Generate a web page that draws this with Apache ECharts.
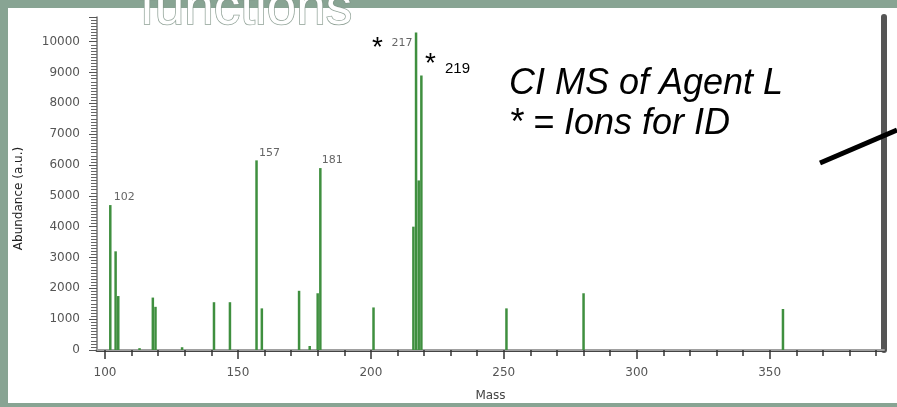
<!DOCTYPE html>
<html>
<head>
<meta charset="utf-8">
<title>CI MS of Agent L</title>
<script src="https://cdn.jsdelivr.net/npm/echarts@6/dist/echarts.min.js"></script>
<style>
  html, body { margin: 0; padding: 0; background: #88a493; }
  #chart { width: 897px; height: 407px; }
</style>
</head>
<body>
<div id="chart"></div>
<script>
// peak list (m/z, abundance)
const masses = [102, 104, 105, 113, 118, 119, 129, 141, 147, 157, 159, 173, 177, 180, 181, 201, 216, 217, 218, 219, 251, 280, 355];
const abundances = [4700, 3200, 1750, 60, 1700, 1400, 90, 1550, 1550, 6150, 1350, 1920, 130, 1840, 5900, 1380, 4000, 10300, 5500, 8900, 1350, 1840, 1330];
const labelledMasses = [102, 157, 181, 217];

const xLabelValues = [100, 150, 200, 250, 300, 350];
const xTickValues = [100, 110, 120, 130, 140, 150, 160, 170, 180, 190, 200, 210, 220, 230, 240, 250, 260, 270, 280, 290, 300, 310, 320, 330, 340, 350, 360, 370, 380, 390];

const X_MIN = 97, X_MAX = 393, Y_MAX = 10800;
const AXIS_FONT = 'DejaVu Sans';

// where each peak label sits relative to the top of its stick
const labelOffsets = {
  102: [14, 0],
  157: [13, 0],
  181: [12, 0],
  217: [-14, 18]
};

const peakData = masses.map((m, i) => {
  const item = { value: [m, abundances[i]] };
  if (labelledMasses.includes(m)) {
    item.label = {
      show: true,
      position: 'top',
      distance: 2,
      offset: labelOffsets[m],
      formatter: String(m),
      color: '#666',
      fontSize: 11,
      fontFamily: AXIS_FONT
    };
  }
  return item;
});

const chart = echarts.init(document.getElementById('chart'));

const option = {
  backgroundColor: '#88a493',
  animation: false,
  grid: { left: 97, right: 13, top: 17, bottom: 55 },
  xAxis: [
    {
      type: 'value',
      position: 'bottom',
      min: X_MIN,
      max: X_MAX,
      name: 'Mass',
      nameLocation: 'middle',
      nameGap: 40,
      nameTextStyle: { color: '#444', fontSize: 12, fontFamily: AXIS_FONT },
      splitLine: { show: false },
      axisLine: { lineStyle: { color: '#444', width: 3 } },
      axisTick: { customValues: xTickValues, length: 6, lineStyle: { color: '#333', width: 1.5 } },
      axisLabel: {
        customValues: xLabelValues,
        margin: 17,
        color: '#555',
        fontSize: 12,
        fontFamily: AXIS_FONT
      }
    },
    {
      type: 'value',
      position: 'top',
      min: X_MIN,
      max: X_MAX,
      splitLine: { show: false },
      axisLine: { lineStyle: { color: '#a0a0a0', width: 2 } },
      axisTick: { show: false },
      axisLabel: { show: false }
    },
    {
      type: 'value',
      position: 'bottom',
      min: X_MIN,
      max: X_MAX,
      splitLine: { show: false },
      axisLine: { show: false },
      axisTick: { customValues: xLabelValues, length: 9, lineStyle: { color: '#333', width: 1.5 } },
      axisLabel: { show: false }
    }
  ],
  yAxis: [
    {
      type: 'value',
      min: 0,
      max: Y_MAX,
      interval: 1000,
      name: 'Abundance (a.u.)',
      nameLocation: 'middle',
      nameGap: 72,
      nameTextStyle: {
        color: '#222',
        fontSize: 12,
        fontFamily: AXIS_FONT,
        padding: [0, 30, 0, 0]
      },
      splitLine: { show: false },
      axisLine: { show: true, lineStyle: { color: '#777', width: 1.5 } },
      axisTick: { show: true, length: 8, lineStyle: { color: '#555' } },
      minorTick: { show: true, splitNumber: 10, length: 6, lineStyle: { color: '#666' } },
      axisLabel: {
        margin: 17,
        color: '#555',
        fontSize: 12,
        fontFamily: AXIS_FONT,
        showMaxLabel: false,
        formatter: (v) => String(v)
      }
    },
    {
      type: 'value',
      position: 'right',
      min: 0,
      max: Y_MAX,
      splitLine: { show: false },
      axisLine: { show: true, lineStyle: { color: '#555', width: 6 } },
      axisTick: { show: false },
      axisLabel: { show: false }
    }
  ],
  series: [
    {
      type: 'bar',
      xAxisIndex: 0,
      yAxisIndex: 0,
      barWidth: 2.5,
      itemStyle: { color: '#3f8f3f' },
      data: peakData
    }
  ],
  graphic: [
    // white slide panel behind the plot
    {
      type: 'rect',
      z: -10,
      shape: { x: 8, y: 8, width: 889, height: 395 },
      style: { fill: '#ffffff' }
    },
    // slide title peeking in above the figure
    {
      type: 'text',
      z: 100,
      style: {
        x: 140, y: 9,
        text: 'functions',
        verticalAlign: 'middle',
        font: '53px "Liberation Sans"',
        fill: '#ffffff',
        stroke: 'rgba(130,150,138,0.9)',
        lineWidth: 1.5
      }
    },
    {
      type: 'text',
      z: 100,
      style: {
        x: 509, y: 84,
        text: 'CI MS of Agent L',
        verticalAlign: 'middle',
        font: 'italic 36px "Liberation Sans"',
        fill: '#000'
      }
    },
    {
      type: 'text',
      z: 100,
      style: {
        x: 509, y: 124,
        text: '* = Ions for ID',
        verticalAlign: 'middle',
        font: 'italic 36px "Liberation Sans"',
        fill: '#000'
      }
    },
    {
      type: 'text',
      z: 100,
      style: {
        x: 372, y: 48,
        text: '*',
        verticalAlign: 'middle',
        font: '28px "Liberation Sans"',
        fill: '#000'
      }
    },
    {
      type: 'text',
      z: 100,
      style: {
        x: 425, y: 64,
        text: '*',
        verticalAlign: 'middle',
        font: '28px "Liberation Sans"',
        fill: '#000'
      }
    },
    {
      type: 'text',
      z: 100,
      style: {
        x: 445, y: 69,
        text: '219',
        verticalAlign: 'middle',
        font: '15px "Liberation Sans"',
        fill: '#000'
      }
    },
    {
      type: 'line',
      z: 100,
      shape: { x1: 820, y1: 163, x2: 897, y2: 130 },
      style: { stroke: '#000', lineWidth: 5 }
    }
  ]
};

chart.setOption(option);
</script>
</body>
</html>
